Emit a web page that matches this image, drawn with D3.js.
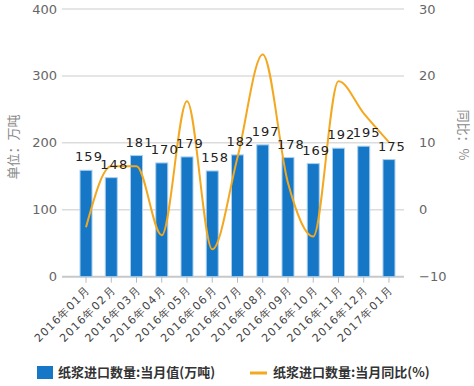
<!DOCTYPE html>
<html><head><meta charset="utf-8">
<script src="https://cdn.jsdelivr.net/npm/d3@7"></script>
<style>body{margin:0;background:#fff;} svg{display:block;}</style>
</head><body>
<script>
const categories = ["2016年01月","2016年02月","2016年03月","2016年04月","2016年05月","2016年06月","2016年07月","2016年08月","2016年09月","2016年10月","2016年11月","2016年12月","2017年01月"];
const volume = [159,148,181,170,179,158,182,197,178,169,192,195,175];
const yoy = [-2.6,6.5,6.5,-3.8,16.2,-5.9,7.8,23.2,4.0,-4.0,19.2,14.4,10.1];
const leftTicks = [0,100,200,300,400];
const rightTicks = [-10,0,10,20,30];
const seriesNames = ["纸浆进口数量:当月值(万吨)","纸浆进口数量:当月同比(%)"];

const W=474,H=386;
const svg=d3.select("body").append("svg").attr("width",W).attr("height",H);
const num="'DejaVu Sans', sans-serif";
const cjk="'Noto Sans CJK SC','DejaVu Sans',sans-serif";

const x=d3.scalePoint().domain(categories).range([73.4,401.6]).padding(0.5);
const yL=d3.scaleLinear().domain([0,400]).range([276.7,9]);
const yR=d3.scaleLinear().domain([-10,30]).range([276.7,9]);

// grid
svg.append("g").selectAll("line").data(leftTicks.slice(1)).join("line")
  .attr("x1",62).attr("x2",404).attr("y1",d=>yL(d)).attr("y2",d=>yL(d))
  .attr("stroke","#dcdcdc").attr("stroke-width",1.5);
// bottom axis
svg.append("line").attr("x1",62).attr("x2",404).attr("y1",yL(0)).attr("y2",yL(0))
  .attr("stroke","#c8c8c8").attr("stroke-width",2);
svg.append("g").selectAll("line").data(categories).join("line")
  .attr("x1",d=>x(d)).attr("x2",d=>x(d)).attr("y1",yL(0)).attr("y2",yL(0)+6)
  .attr("stroke","#bbb").attr("stroke-width",1);

// left labels
svg.append("g").selectAll("text").data(leftTicks).join("text")
  .attr("x",57).attr("y",d=>yL(d)).attr("dy","0.35em").attr("text-anchor","end")
  .attr("font-family",num).attr("font-size",13).attr("fill","#666").text(d=>d);
// right labels
svg.append("g").selectAll("text").data(rightTicks).join("text")
  .attr("x",419).attr("y",d=>yR(d)).attr("dy","0.35em").attr("text-anchor","start")
  .attr("font-family",num).attr("font-size",13).attr("fill","#666").text(d=>d<0?"\u2212"+Math.abs(d):d);

// axis titles
svg.append("text").attr("transform","translate(18,147) rotate(-90)").attr("text-anchor","middle")
  .attr("font-family",cjk).attr("font-size",13).attr("fill","#888").text("单位：万吨");
svg.append("text").attr("transform","translate(459,135) rotate(90)").attr("text-anchor","middle")
  .attr("font-family",cjk).attr("font-size",13).attr("fill","#888").text("同比：%");

// bars
const bw=12;
svg.append("g").selectAll("rect").data(volume).join("rect")
  .attr("x",(d,i)=>x(categories[i])-bw/2).attr("width",bw)
  .attr("y",d=>yL(d)).attr("height",d=>yL(0)-yL(d))
  .attr("fill","#1577c6").attr("stroke","#a8d0f0").attr("stroke-width",1);

// line
const line=d3.line().x((d,i)=>x(categories[i])).y(d=>yR(d)).curve(d3.curveMonotoneX);
svg.append("path").datum(yoy).attr("d",line).attr("fill","none")
  .attr("stroke","#f3a81f").attr("stroke-width",2);

// value labels
svg.append("g").selectAll("text").data(volume).join("text")
  .attr("x",(d,i)=>x(categories[i])+3).attr("y",d=>yL(d)-9).attr("text-anchor","middle")
  .attr("font-family",num).attr("font-size",13).attr("fill","#222").attr("letter-spacing",1).text(d=>d);

// x labels
svg.append("g").selectAll("text").data(categories).join("text")
  .attr("transform",d=>`translate(${x(d)+5},${yL(0)+14}) rotate(-45)`)
  .attr("text-anchor","end").attr("font-family",num).attr("font-size",11).attr("fill","#444")
  .attr("letter-spacing",1.2).text(d=>d);

// legend
svg.append("rect").attr("x",37).attr("y",366).attr("width",16).attr("height",13).attr("fill","#1577c6");
svg.append("text").attr("x",58).attr("y",377).attr("font-family",cjk).attr("font-weight","bold")
  .attr("font-size",13).attr("fill","#333").text(seriesNames[0]);
svg.append("line").attr("x1",250).attr("x2",267).attr("y1",373).attr("y2",373)
  .attr("stroke","#f3a81f").attr("stroke-width",3);
svg.append("text").attr("x",273).attr("y",377).attr("font-family",cjk).attr("font-weight","bold")
  .attr("font-size",13).attr("fill","#333").text(seriesNames[1]);
</script>
</body></html>
